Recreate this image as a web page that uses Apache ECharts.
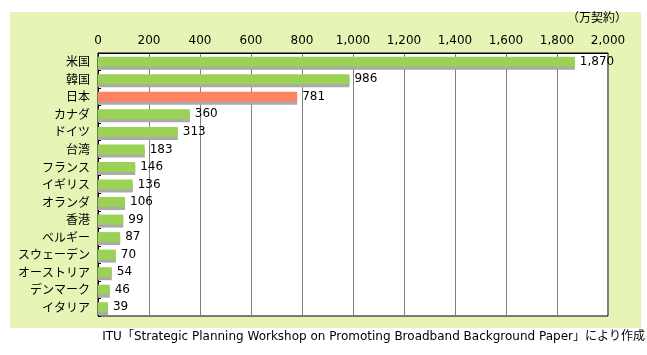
<!DOCTYPE html>
<html>
<head>
<meta charset="utf-8">
<script src="https://cdn.jsdelivr.net/npm/echarts@6/dist/echarts.min.js"></script>
<style>
  html, body { margin: 0; padding: 0; background: #fff; }
  #chart { width: 647px; height: 355px; }
</style>
</head>
<body>
<div id="chart"></div>
<script>
  // countries, top to bottom
  const countries = ["米国", "韓国", "日本", "カナダ", "ドイツ", "台湾", "フランス", "イギリス",
    "オランダ", "香港", "ベルギー", "スウェーデン", "オーストリア", "デンマーク", "イタリア"];
  // subscribers (万契約)
  const subscribers = [1870, 986, 781, 360, 313, 183, 146, 136, 106, 99, 87, 70, 54, 46, 39];
  const highlight = "日本";
  const unitLabel = "（万契約）";
  const sourceNote = "ITU「Strategic Planning Workshop on Promoting Broadband Background Paper」により作成";

  // DejaVu for the latin/digits (wide like the original), CJK falls back
  const FONT = '"DejaVu Sans", "Noto Sans CJK JP", sans-serif';
  const CJK_FONT = '"Noto Sans CJK JP", sans-serif';
  const GREEN = "#9bd255";
  const SALMON = "#ff8262";

  function fmtNum(v) {
    return String(v).replace(/\B(?=(\d{3})+(?!\d))/g, ",");
  }

  const chart = echarts.init(document.getElementById("chart"), null, { renderer: "canvas" });

  const option = {
    animation: false,
    backgroundColor: "#ffffff",
    graphic: [
      {
        type: "rect",
        z: -10,
        shape: { x: 10, y: 12, width: 631, height: 316 },
        style: { fill: "#e6f5b6" }
      },
      {
        type: "text",
        right: 2,
        top: 331,
        style: { text: sourceNote, font: "12px " + FONT, fill: "#000" }
      }
    ],
    title: {
      text: unitLabel,
      right: 20,
      top: 11,
      padding: 0,
      textStyle: { fontFamily: CJK_FONT, fontSize: 12, fontWeight: "normal", color: "#000" }
    },
    grid: {
      left: 98, top: 53, width: 510, height: 263,
      show: true, backgroundColor: "#ffffff", borderColor: "#000", borderWidth: 1
    },
    xAxis: {
      type: "value",
      position: "top",
      min: 0,
      max: 2000,
      interval: 200,
      axisLine: { show: true, lineStyle: { color: "#000" } },
      axisTick: { show: false },
      axisLabel: {
        margin: 6,
        fontFamily: FONT, fontSize: 12, color: "#000",
        formatter: (v) => fmtNum(v)
      },
      splitLine: { show: true, lineStyle: { color: "#808080", width: 1 } }
    },
    yAxis: {
      type: "category",
      inverse: true,
      data: countries,
      axisLine: { show: true, lineStyle: { color: "#000" } },
      axisTick: { show: true, inside: true, length: 3, lineStyle: { color: "#000" } },
      axisLabel: { margin: 8, fontFamily: CJK_FONT, fontSize: 12, color: "#000" }
    },
    series: [
      {
        type: "bar",
        barWidth: 10,
        data: subscribers.map((v, i) => ({
          value: v,
          itemStyle: { color: countries[i] === highlight ? SALMON : GREEN }
        })),
        itemStyle: {
          shadowColor: "#aaaaaa",
          shadowBlur: 0,
          shadowOffsetX: 0,
          shadowOffsetY: 3
        },
        label: {
          show: true,
          position: "right",
          distance: 5,
          fontFamily: FONT,
          fontSize: 12,
          color: "#000",
          formatter: (p) => fmtNum(p.value)
        }
      }
    ]
  };

  chart.setOption(option, true);
</script>
</body>
</html>
